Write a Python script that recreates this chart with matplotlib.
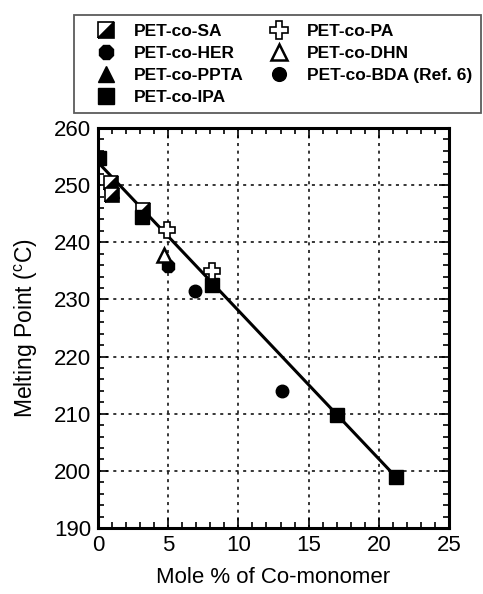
import matplotlib
matplotlib.use("Agg")
import matplotlib.pyplot as plt
from matplotlib.markers import MarkerStyle
from matplotlib.transforms import Affine2D
from matplotlib.ticker import MultipleLocator

plt.rcParams['font.family'] = ['Liberation Sans', 'DejaVu Sans']
plt.rcParams['mathtext.default'] = 'regular'

# data (Mole % of co-monomer, melting point in C)
sa_x = [0.9, 1.0, 3.2]
sa_y = [250.3, 248.3, 245.6]
her_x = [5.0]
her_y = [235.8]
ppta_x = [1.0]
ppta_y = [249.0]
ipa_x = [0.1, 3.1, 8.1, 17.0, 21.2]
ipa_y = [254.8, 244.5, 232.6, 209.8, 199.0]
pa_x = [4.9, 8.1]
pa_y = [242.1, 234.9]
dhn_x = [4.7]
dhn_y = [237.8]
bda_x = [6.9, 13.1]
bda_y = [231.5, 213.9]
fit_x = [0.0, 21.0]
fit_y = [254.0, 199.5]

fig = plt.figure(figsize=(4.83, 5.94), dpi=100)
ax = fig.add_axes([98/483, 1-528/594, (449-98)/483, (528-128)/594])

half_sq = MarkerStyle('D', fillstyle='bottom', transform=Affine2D().rotate_deg(45))

ax.plot(fit_x, fit_y, color='black', lw=2.2, zorder=3)

h_ppta, = ax.plot(ppta_x, ppta_y, ls='none', marker='^', ms=10, color='black', zorder=4)
h_sa, = ax.plot(sa_x, sa_y, ls='none', marker=half_sq, ms=10, mfc='black', mfcalt='white',
                mec='black', mew=1.2, zorder=5)
h_ipa, = ax.plot(ipa_x, ipa_y, ls='none', marker='s', ms=10, color='black', zorder=5)
h_her, = ax.plot(her_x, her_y, ls='none', marker='8', ms=10, color='black', zorder=4)
h_pa, = ax.plot(pa_x, pa_y, ls='none', marker='P', ms=12, mfc='white', mec='black', mew=1.2, zorder=6)
h_dhn, = ax.plot(dhn_x, dhn_y, ls='none', marker='^', ms=10, mfc='white', mec='black', mew=1.8, zorder=5)
h_bda, = ax.plot(bda_x, bda_y, ls='none', marker='o', ms=9, color='black', zorder=4)

ax.set_xlim(0, 25)
ax.set_ylim(190, 260)
ax.xaxis.set_major_locator(MultipleLocator(5))
ax.xaxis.set_minor_locator(MultipleLocator(1))
ax.yaxis.set_major_locator(MultipleLocator(10))
ax.yaxis.set_minor_locator(MultipleLocator(2))
ax.tick_params(which='both', direction='in', top=True, right=True, width=1.2, colors='black')
ax.tick_params(which='major', length=7, labelsize=16, pad=5)
ax.tick_params(which='minor', length=4)
for s in ax.spines.values():
    s.set_linewidth(2.2)
ax.grid(True, which='major', ls=(0, (2, 3)), color='black', lw=1.1)

ax.set_xlabel('Mole % of Co-monomer', fontsize=16, labelpad=8)
ax.set_ylabel(r'Melting Point ($^{c}$C)', fontsize=16.5, labelpad=10)

handles = [h_sa, h_her, h_ppta, h_ipa, h_pa, h_dhn, h_bda]
labels = ['PET-co-SA', 'PET-co-HER', 'PET-co-PPTA', 'PET-co-IPA',
          'PET-co-PA', 'PET-co-DHN', 'PET-co-BDA (Ref. 6)']
leg = fig.legend(handles, labels, loc='upper left', ncol=2,
                 bbox_to_anchor=(74/483, 1-112/594, (481-74)/483, (112-15)/594),
                 mode='expand', borderaxespad=0, frameon=True, fancybox=False,
                 edgecolor='#333333', prop={'weight': 'bold', 'size': 12.5},
                 labelspacing=0.39, handletextpad=0.27, handlelength=2.68,
                 columnspacing=0.3, borderpad=0.5, numpoints=1, markerscale=1.1)
leg.get_frame().set_linewidth(1.3)

fig.savefig('out.png', dpi=100)
